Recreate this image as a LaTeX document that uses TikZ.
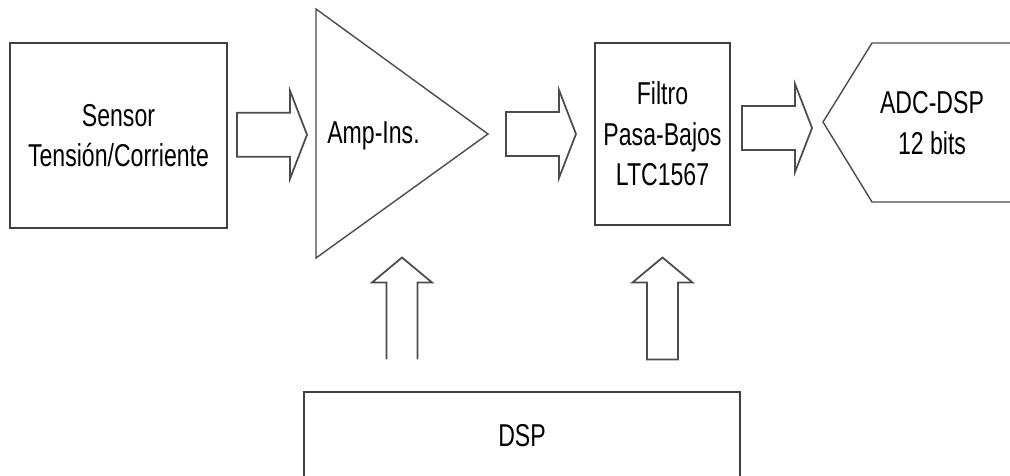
\documentclass[tikz,border=0pt]{standalone}
\usepackage{fontspec}
\setmainfont{Liberation Sans}[FakeStretch=0.73]
\usepackage{xcolor}
\usepackage{tikz}
\usetikzlibrary{calc}

\tikzset{
  block/.style={draw=black!75, line width=1.2pt, rectangle, align=center, font=\fontsize{18}{23}\selectfont},
  label text/.style={align=center, font=\fontsize{18}{23}\selectfont},
  fat/.style={draw=black!70, line width=1pt},
  rarrow/.pic={\draw[fat] (-35,-22) -- (18,-22) -- (18,-44) -- (35,0) -- (18,44) -- (18,22) -- (-35,22) -- cycle;},
  uparrow/.pic={\draw[fat] (-15.5,51) -- (-15.5,-26) -- (-30,-26) -- (0,-51) -- (30,-26) -- (15.5,-26) -- (15.5,51) -- cycle;},
  uparrow open/.pic={\draw[fat] (-15.5,51) -- (-15.5,-26) -- (-30,-26) -- (0,-51) -- (30,-26) -- (15.5,-26) -- (15.5,51);}
}

\begin{document}
\begin{tikzpicture}[x=0.02cm, y=-0.02cm]
            \useasboundingbox (0,0) rectangle (1010,476);
            \clip (0,0) rectangle (1010,476);

            % Left side - Sensor
            \node[block, minimum width=4.34cm, minimum height=3.7cm] (sensor) at (118.5,135.5) {Sensor\\Tensión/Corriente};

            % Amplifier triangle
            \coordinate (ampNW) at (316,9);
            \coordinate (ampSW) at (316,258);
            \coordinate (ampE) at (488,134);
            \coordinate (ampW) at (316,134);
            \draw[draw=black!70, line width=0.8pt] (ampNW) -- (ampE) -- (ampSW) -- cycle;
            \node[label text] (amp) at (373.5,136) {Amp-Ins.};

            % Low-pass filter
            \node[block, minimum width=2.7cm, minimum height=3.64cm] (filter) at (662.5,134) {Filtro\\Pasa-Bajos\\LTC1567};

            % Right side - ADC
            \coordinate (adcW) at (823,122);
            \draw[draw=black!70, line width=0.8pt] (1015,43) -- (872,43) -- (adcW) -- (872,202) -- (1015,202);
            \node[label text] (adc) at (932,123) {ADC-DSP\\12 bits};

            % Bottom - DSP
            \node[block, minimum width=8.72cm, minimum height=1.76cm] (dsp) at (522,436) {DSP};

            % Arrows
            \pic at ($(sensor.east)!0.5!(ampW)$) {rarrow};
            \pic at ($(ampE)!0.5!(filter.west)$) {rarrow};
            \pic at ($(filter.east)!0.5!(adcW)$) {rarrow};

            \coordinate (mid) at ($(filter.south)!0.5!(dsp.north)$);
            \coordinate (ampmid) at ($(ampW)!0.5!(ampE)$);
            \pic at (ampmid |- mid) {uparrow open};
            \pic at (filter.south |- mid) {uparrow};
        \end{tikzpicture}
\end{document}
